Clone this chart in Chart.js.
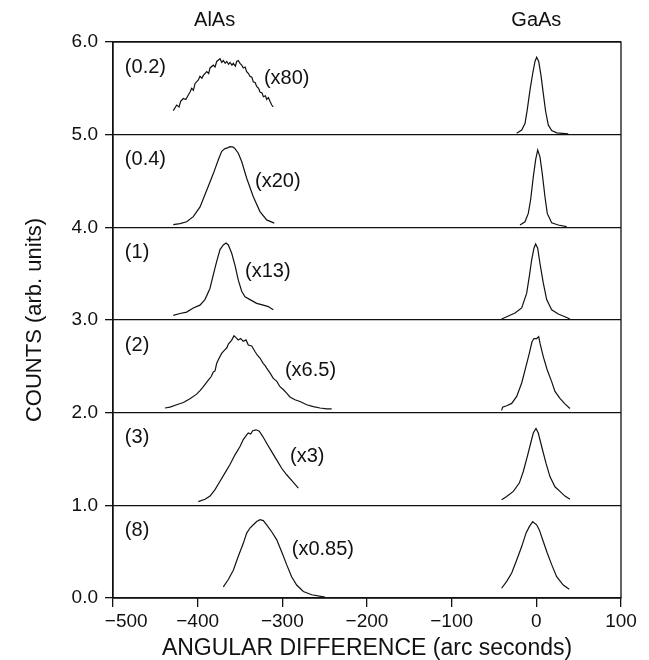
<!DOCTYPE html>
<html>
<head>
<meta charset="utf-8">
<script src="https://cdn.jsdelivr.net/npm/chart.js@4.4.1/dist/chart.umd.min.js"></script>
<style>
  html, body { margin: 0; padding: 0; background: #fff; }
  #wrap { width: 649px; height: 660px; position: relative; }
</style>
</head>
<body>
<div id="wrap"><canvas id="chart"></canvas></div>
<script>
// sample labels (top to bottom), baseline offset of each panel, and scale factor text
const samples = ['(0.2)', '(0.4)', '(1)', '(2)', '(3)', '(8)'];
const offsets = [5, 4, 3, 2, 1, 0];
const factors = ['(x80)', '(x20)', '(x13)', '(x6.5)', '(x3)', '(x0.85)'];
const phases = ['AlAs', 'GaAs'];
const xTicks = [-500, -400, -300, -200, -100, 0, 100];
const yTicks = [0, 1, 2, 3, 4, 5, 6];

// AlAs peaks: [angle, counts above panel baseline]
const alas02 = [[-428.8,0.26],[-424.8,0.32],[-422,0.30],[-420.1,0.36],[-417,0.39],[-414,0.38],[-412.2,0.41],[-409,0.46],[-407.1,0.50],[-405,0.48],[-403.2,0.55],[-399.2,0.59],[-397.3,0.63],[-395,0.61],[-393.3,0.64],[-389.3,0.68],[-387,0.66],[-385.4,0.72],[-381.5,0.75],[-379.5,0.73],[-377.5,0.79],[-373.6,0.82],[-371.5,0.78],[-369.7,0.80],[-367.5,0.77],[-365.7,0.79],[-363.5,0.76],[-361.8,0.78],[-359.5,0.75],[-357.9,0.77],[-355.5,0.74],[-353.9,0.79],[-352,0.80],[-350,0.77],[-348,0.75],[-346.1,0.72],[-344,0.73],[-342.1,0.68],[-340,0.66],[-338.2,0.63],[-336,0.62],[-334.3,0.57],[-332,0.56],[-330.3,0.52],[-328,0.50],[-326.4,0.46],[-324,0.45],[-322.4,0.41],[-320,0.42],[-318.5,0.38],[-316.5,0.40],[-314.6,0.36],[-312.5,0.32],[-310.7,0.30]];
const alas04 = [[-428.8,0.03],[-420.9,0.04],[-413,0.06],[-405.2,0.115],[-397.2,0.22],[-389.3,0.40],[-381.5,0.58],[-375.6,0.73],[-371.6,0.82],[-367.7,0.85],[-364,0.86],[-361.8,0.87],[-358,0.865],[-355.9,0.85],[-352,0.80],[-348,0.71],[-342.1,0.53],[-334.3,0.33],[-326.4,0.17],[-318.5,0.08],[-309.5,0.045]];
const alas1 = [[-428.8,0.05],[-420.9,0.07],[-413,0.085],[-405.2,0.13],[-397.3,0.16],[-391.4,0.22],[-385.5,0.34],[-381.5,0.49],[-377.6,0.63],[-373.6,0.76],[-369.7,0.81],[-366.5,0.83],[-363.8,0.81],[-359.8,0.72],[-355.9,0.59],[-352,0.43],[-348,0.31],[-344.1,0.25],[-338.2,0.22],[-330.3,0.18],[-322.5,0.16],[-316.6,0.145],[-310.7,0.11]];
const alas2 = [[-438.6,0.05],[-432.7,0.06],[-424.8,0.085],[-416.9,0.11],[-409.1,0.15],[-401.2,0.20],[-397,0.24],[-393.3,0.28],[-387.4,0.35],[-384,0.39],[-381.5,0.44],[-379.5,0.45],[-377.6,0.53],[-375.6,0.57],[-371.7,0.64],[-367.7,0.68],[-365.5,0.70],[-363.8,0.74],[-359.9,0.78],[-357.1,0.83],[-354.7,0.81],[-352,0.785],[-349.2,0.80],[-346.1,0.77],[-342.9,0.785],[-340.2,0.73],[-336.2,0.72],[-332.3,0.66],[-329.5,0.62],[-326.4,0.59],[-322.5,0.53],[-320.5,0.51],[-318.5,0.48],[-314.6,0.43],[-310.7,0.37],[-306.7,0.34],[-302.8,0.28],[-298.9,0.25],[-294.9,0.21],[-291,0.17],[-285.1,0.14],[-279.1,0.12],[-271.2,0.085],[-263.4,0.065],[-255.5,0.05],[-247.6,0.04],[-241.7,0.04]];
const alas3 = [[-399.2,0.04],[-391.3,0.065],[-385.4,0.10],[-379.5,0.17],[-373.6,0.26],[-367.7,0.35],[-361.8,0.44],[-355.9,0.545],[-350,0.635],[-346.1,0.71],[-342.1,0.76],[-340.2,0.78],[-337.4,0.77],[-335,0.805],[-331.1,0.815],[-327.2,0.80],[-323.2,0.745],[-318.5,0.67],[-312.6,0.58],[-306.7,0.49],[-300.8,0.40],[-294.9,0.33],[-289,0.27],[-281.1,0.185]];
const alas8 = [[-369.7,0.12],[-363.8,0.20],[-357.9,0.30],[-352,0.45],[-346.1,0.59],[-342.1,0.70],[-338.2,0.755],[-334.3,0.79],[-330.3,0.825],[-326.4,0.845],[-322.5,0.835],[-318.5,0.79],[-312.6,0.715],[-306.7,0.63],[-300.8,0.50],[-294.9,0.36],[-289,0.23],[-283.1,0.14],[-275.2,0.07],[-265.3,0.035],[-249.6,0.01]];

// GaAs peaks
const gaas02 = [[-23.2,0.015],[-17.3,0.05],[-13.4,0.12],[-10.7,0.27],[-7.5,0.48],[-4.3,0.66],[-1.6,0.79],[0.4,0.835],[2.8,0.79],[5.5,0.64],[8.2,0.445],[11,0.25],[14.1,0.105],[18.1,0.045],[24,0.02],[37.7,0.008]];
const gaas04 = [[-19.3,0.025],[-13.4,0.06],[-9.5,0.15],[-6.7,0.30],[-3.6,0.545],[-0.8,0.73],[1.6,0.835],[4.3,0.76],[7,0.58],[10.2,0.33],[12.9,0.15],[18.1,0.05],[25.9,0.025],[35.8,0.008]];
const gaas1 = [[-41,0.01],[-35,0.035],[-25.2,0.075],[-17.3,0.13],[-11.4,0.29],[-8.3,0.47],[-5.5,0.65],[-2.8,0.775],[-0.8,0.82],[1.6,0.775],[4.3,0.61],[8.2,0.40],[12.2,0.22],[18.1,0.11],[25.9,0.065],[33.8,0.035],[39.7,0.01]];
const gaas2 = [[-41,0.025],[-39.8,0.06],[-35,0.075],[-29.1,0.10],[-23.2,0.175],[-17.3,0.32],[-12.2,0.50],[-8.3,0.64],[-5.1,0.765],[-2.8,0.80],[0.4,0.80],[2.8,0.82],[4.3,0.75],[8.2,0.605],[12.9,0.46],[18.1,0.335],[22,0.23],[27.9,0.155],[33.8,0.095],[39.7,0.045]];
const gaas3 = [[-41,0.06],[-35,0.095],[-27.2,0.15],[-20.1,0.24],[-15.4,0.365],[-10.7,0.525],[-6.7,0.67],[-3.6,0.78],[-0.4,0.83],[2.3,0.78],[6.3,0.635],[11.4,0.455],[16.1,0.31],[22,0.20],[27.9,0.15],[33.8,0.10],[39.7,0.065]];
const gaas8 = [[-41,0.105],[-35,0.18],[-29.1,0.27],[-23.2,0.41],[-17.3,0.555],[-12.2,0.70],[-8.3,0.77],[-4.3,0.825],[-2.4,0.81],[0.4,0.79],[3.5,0.735],[8.2,0.61],[12.9,0.485],[18.1,0.36],[24,0.23],[31.8,0.14],[38.9,0.095]];

const alasCurves = [alas02, alas04, alas1, alas2, alas3, alas8];
const gaasCurves = [gaas02, gaas04, gaas1, gaas2, gaas3, gaas8];

// text anchors in axis units (x in arc seconds, y above panel baseline)
const sampleLabelX = -486;
const sampleLabelY = 0.73;
const factorX = [-321.7, -332.3, -344.1, -296.9, -290.9, -288.9];
const factorY = [0.61, 0.50, 0.52, 0.46, 0.53, 0.52];
const phaseX = [-380, 0];

const INK = '#111';
const FONT = '"Liberation Sans", Arial, sans-serif';

function toPoints(curve, base) {
    return curve.map(p => ({ x: p[0], y: base + p[1] }));
}

const datasets = [];
offsets.forEach((base, i) => {
    [alasCurves[i], gaasCurves[i]].forEach(curve => {
        datasets.push({
            data: toPoints(curve, base),
            borderColor: INK,
            borderWidth: 1.2,
            pointRadius: 0,
            tension: 0,
            fill: false
        });
    });
});

const textPlugin = {
    id: 'panelText',
    afterDatasetsDraw(chart) {
        const { ctx, chartArea, scales: { x, y } } = chart;
        ctx.save();
        ctx.strokeStyle = INK;
        ctx.lineWidth = 1.3;
        ctx.strokeRect(chartArea.left, chartArea.top, chartArea.right - chartArea.left, chartArea.bottom - chartArea.top);

        ctx.fillStyle = INK;
        ctx.textBaseline = 'middle';
        ctx.textAlign = 'left';
        ctx.font = '20px ' + FONT;
        samples.forEach((s, i) => {
            ctx.fillText(s, x.getPixelForValue(sampleLabelX), y.getPixelForValue(offsets[i] + sampleLabelY));
            ctx.fillText(factors[i], x.getPixelForValue(factorX[i]), y.getPixelForValue(offsets[i] + factorY[i]));
        });

        ctx.textAlign = 'center';
        ctx.font = '20px ' + FONT;
        phases.forEach((p, i) => {
            ctx.fillText(p, x.getPixelForValue(phaseX[i]), chartArea.top - 22);
        });
        ctx.restore();
    }
};

new Chart(document.querySelector('#chart'), {
    type: 'line',
    data: { datasets },
    options: {
        responsive: true,
        maintainAspectRatio: false,
        animation: false,
        devicePixelRatio: 1,
        layout: { padding: { top: 42, right: 28, left: 0, bottom: 0 } },
        plugins: {
            legend: { display: false },
            tooltip: { enabled: false }
        },
        scales: {
            x: {
                type: 'linear',
                min: -500,
                max: 100,
                afterBuildTicks: scale => { scale.ticks = xTicks.map(v => ({ value: v })); },
                afterFit: scale => { scale.height = 62; },
                ticks: {
                    color: INK,
                    font: { family: FONT, size: 19 },
                    padding: 3,
                    maxRotation: 0,
                    autoSkip: false,
                    callback: v => (v === -500 ? '     ' : '') + String(v).replace('-', '\u2212')
                },
                grid: { drawOnChartArea: false, tickLength: 9, color: INK, lineWidth: 1.3 },
                border: { color: INK, width: 1.3 },
                title: {
                    display: true,
                    text: 'ANGULAR DIFFERENCE (arc seconds)',
                    color: INK,
                    font: { family: FONT, size: 23, lineHeight: 1 },
                    padding: 0
                }
            },
            y: {
                min: 0,
                max: 6,
                afterBuildTicks: scale => { scale.ticks = yTicks.map(v => ({ value: v })); },
                afterFit: scale => { scale.width = 113; },
                ticks: {
                    color: INK,
                    font: { family: FONT, size: 19 },
                    padding: 7,
                    callback: v => Number(v).toFixed(1)
                },
                grid: { color: INK, lineWidth: 1.3, tickLength: 8 },
                border: { color: INK, width: 1.3 },
                title: {
                    display: true,
                    text: 'COUNTS (arb. units)',
                    color: INK,
                    font: { family: FONT, size: 22, lineHeight: 1 },
                    padding: { top: 24, bottom: 0 }
                }
            }
        }
    },
    plugins: [textPlugin]
});
</script>
</body>
</html>
